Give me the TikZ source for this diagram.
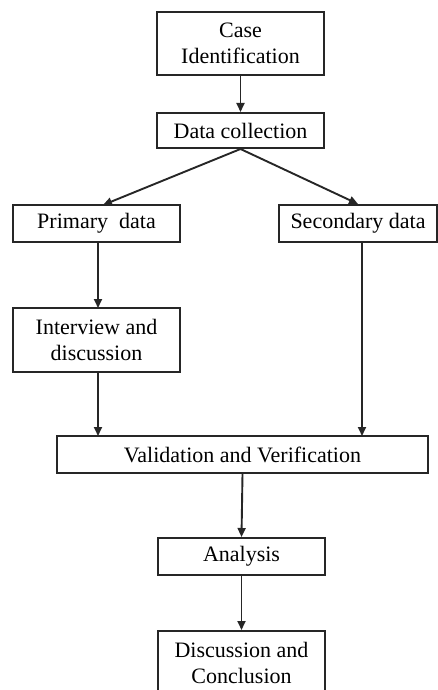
\documentclass[tikz,border=0pt]{standalone}
\usepackage{fontspec}
\setmainfont{Liberation Serif}
\usetikzlibrary{arrows.meta,calc}
\begin{document}
\begin{tikzpicture}[x=1pt,y=-1pt,
  box/.style={draw=black!85,line width=2pt,rectangle,inner sep=0pt,align=center,
    font=\fontsize{22}{25.5}\selectfont},
  conn/.style={draw=black!85,line width=1.9pt,-{Triangle[length=9pt,width=8pt]}}]
\useasboundingbox (0,0) rectangle (438,690);
\clip (0,0) rectangle (438,690);
\node[box,minimum width=167pt,minimum height=63pt] (case) at (240.5,43.5) {Case\\Identification};
\node[box,minimum width=167pt,minimum height=35pt] (data) at (240.5,130.5) {Data collection};
\node[box,minimum width=167pt,minimum height=37pt] (prim) at (96.5,223.5) {Primary\ \ data};
\node[box,minimum width=158pt,minimum height=37pt] (sec) at (358,223.5) {Secondary data};
\node[box,minimum width=167pt,minimum height=64pt] (inter) at (96.5,340) {Interview and\\discussion};
\node[box,minimum width=371pt,minimum height=37pt] (valid) at (242.5,454.5) {Validation and Verification};
\node[box,minimum width=167pt,minimum height=37pt] (anal) at (241.5,556.5) {Analysis};
\node[box,minimum width=167pt,minimum height=64pt] (disc) at (241.5,663) {Discussion and\\Conclusion};
\coordinate (pt) at (103,205);
\coordinate (s1) at (362,242);
\coordinate (s2) at (362,436);
\coordinate (i1) at (98,372);
\coordinate (i2) at (98,436);
\coordinate (p1) at (98,242);
\coordinate (p2) at (98,308);
\draw[conn] (case.south) -- (data.north);
\draw[conn] (data.south) -- (pt);
\draw[conn] (data.south) -- (sec.north);
\draw[conn] (p1) -- (p2);
\draw[conn] (s1) -- (s2);
\draw[conn] (i1) -- (i2);
\draw[conn] (valid.south) -- (anal.north);
\draw[conn] (anal.south) -- (disc.north);
\end{tikzpicture}
\end{document}
